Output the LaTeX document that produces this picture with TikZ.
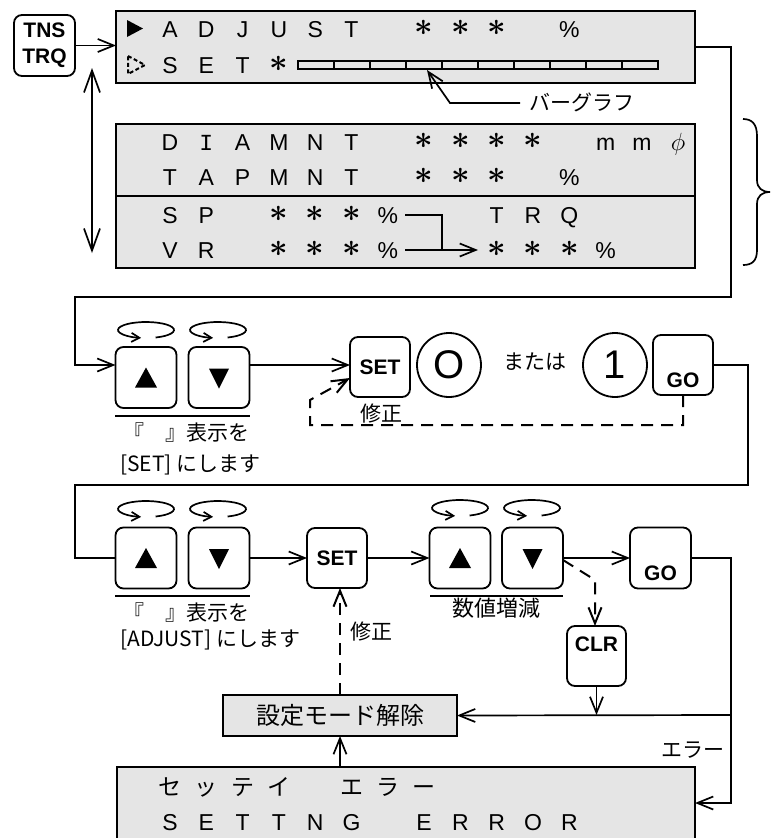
\documentclass[tikz,border=0pt]{standalone}
\usepackage{fontspec}
\usepackage{bm}
\setmainfont{Liberation Sans}
\newfontfamily\jp{Noto Sans CJK JP}
\newfontfamily\monof{Liberation Mono}
\usetikzlibrary{arrows.meta}
\newcommand\dst{\raisebox{1.6pt}{\scalebox{1.3}{$\bm{\ast}$}}}
\newcommand\drow[4]{\foreach \c [count=\k from 0] in {#4} {\node[#1] (#2\k) at ({170+36.3*\k},#3) {\c};}}
\begin{document}
\begin{tikzpicture}[x=1pt,y=-1pt,
  disp/.style={draw, line width=2pt, fill=black!10, inner sep=0pt, outer sep=0pt},
  btn/.style={draw, line width=1.8pt, rounded corners=8pt, minimum width=61pt, minimum height=61pt, inner sep=0pt, outer sep=0pt, fill=white},
  keytxt/.style={inner sep=0pt, font=\bfseries\fontsize{21}{25}\selectfont},
  conn/.style={line width=1.7pt, -{Straight Barb[length=16pt,width=13pt]}},
  plain/.style={line width=1.7pt},
  dconn/.style={conn, line width=2pt, dash pattern=on 12pt off 8pt},
  rot/.style={line width=1.7pt, -{Straight Barb[length=8pt,width=9pt]}},
  dch/.style={anchor=base, inner sep=0pt, font=\fontsize{23}{23}\selectfont},
  jch/.style={anchor=base, inner sep=0pt, font=\jp\fontsize{23}{23}\selectfont},
  lbl/.style={inner sep=0pt, font=\jp\fontsize{21}{24}\selectfont},
  circ/.style={draw, circle, line width=1.8pt, minimum size=64pt, inner sep=0pt, font=\fontsize{40}{40}\selectfont}
]
\path[use as bounding box] (0,0) rectangle (776,838);

% ---------- top part ----------
\node[btn, align=center, font=\bfseries\fontsize{21}{26}\selectfont] (tns) at (44.5,45.5) {TNS\\TRQ};
\node[disp, minimum width=579pt, minimum height=72pt] (disp1) at (405.5,47) {};
\fill (127,20) -- (143,28.5) -- (127,37) -- cycle;
\draw[line width=2pt, dash pattern=on 4pt off 2.5pt] (128,56) -- (145,65) -- (128,74) -- cycle;
\drow{dch}{ra}{37}{A,D,J,U,S,T,,\dst,\dst,\dst,,\%}
\drow{dch}{rb}{73}{S,E,T,\dst}
\node[draw, line width=1.6pt, minimum width=360pt, minimum height=8pt, inner sep=0pt, outer sep=0pt] (bar) at (478,65) {};
\foreach \i in {1,...,9} \draw[line width=1.6pt] ({298+36*\i},61) -- ({298+36*\i},69);
\node[lbl, anchor=west] (barlbl) at (529,102) {バーグラフ};
\coordinate (bl0) at (520,103);
\coordinate (bl1) at (450,103);
\coordinate (bl2) at (427,70);
\draw[conn] (bl0) -- (bl1) -- (bl2);

\node[disp, minimum width=579pt, minimum height=144pt] (disp2) at (405.5,196) {};
\draw[line width=1.8pt] (disp2.west) -- (disp2.east);
\drow{dch}{rc}{150}{D,{\monof I},A,M,N,T,,\dst,\dst,\dst,\dst,,m,m,{\fontsize{27}{27}\selectfont$\phi$}}
\drow{dch}{rd}{185}{T,A,P,M,N,T,,\dst,\dst,\dst,,\%}
\drow{dch}{re}{223}{S,P,,\dst,\dst,\dst,\%,,,T,R,Q}
\drow{dch}{rf}{258}{V,R,,\dst,\dst,\dst,\%,,,\dst,\dst,\dst,\%}
\coordinate (sp1) at (405,215);
\coordinate (sp2) at (442,215);
\coordinate (vr1) at (405,250);
\coordinate (vr2) at (478,250);
\draw[plain] (sp1) -- (sp2) -- (sp2 |- vr1);
\draw[conn] (vr1) -- (vr2);

\coordinate (da1) at (92,68);
\coordinate (da2) at (92,253);
\draw[line width=1.7pt, {Straight Barb[length=22pt,width=16pt]}-{Straight Barb[length=22pt,width=16pt]}] (da1) -- (da2);

\draw[line width=1.7pt] (743,119) .. controls (752,119) and (757,124) .. (757,136) -- (757,180) .. controls (757,188) and (762,192) .. (770,192) .. controls (762,192) and (757,196) .. (757,204) -- (757,250) .. controls (757,261) and (752,265) .. (743,265);

\draw[conn] (tns.east) -- (tns.east -| disp1.west);

% ---------- row 1 ----------
\node[btn, minimum height=61pt] (up1) at (146,377.5) {};
\node[btn] (dn1) at (219,377.5) {};
\node[btn, minimum width=60pt, minimum height=60pt, keytxt] (set1) at (380,367) {SET};
\node[circ] (c0) at (449,365) {O};
\node[lbl] (mataha) at (535,362) {または};
\node[circ] (c1) at (615,365) {1};
\node[btn, minimum width=60pt, minimum height=60pt] (go1) at (683,365) {};
\node[keytxt] (go1t) at (683,380) {GO};
\fill[shift={(up1.center)}] (-11,10) -- (11,10) -- (0,-10) -- cycle;
\fill[shift={(dn1.center)}] (-10,-9) -- (10,-9) -- (0,11) -- cycle;
\foreach \cx in {146,218} \draw[rot] (\cx,330) ++(70:28 and 8) arc[start angle=70, end angle=-260, x radius=28, y radius=8];
\draw[plain] (115,416) -- (250,416);
\node[lbl, anchor=west] (l1a) at (123,433) {『　』表示を};
\node[lbl, anchor=west] (l1b) at (120,465) {[SET] にします};
\node[lbl] (fix1) at (381,414) {修正};

\coordinate (r1) at (0,365);
\coordinate (k1) at (731,297);
\coordinate (k2) at (75,297);
\draw[conn] (disp1.east) -| (k1) -- (k2) |- (up1.west |- r1);
\draw[conn] (dn1.east |- r1) -- (set1.west |- r1);
\coordinate (d1) at (310,425);
\coordinate (d2) at (310,400);
\draw[dconn] (go1.south) |- (d1) -- (d2) -- ([yshift=-11pt]set1.west);

% ---------- row 2 ----------
\coordinate (k3) at (748,485);
\coordinate (k4) at (75,485);
\draw[conn] (go1.east) -| (k3) -- (k4) |- (146,558) -- (115,558);
\node[btn] (up2) at (146,558) {};
\node[btn] (dn2) at (219,558) {};
\node[btn, minimum width=60pt, minimum height=60pt, keytxt] (set2) at (337,558) {SET};
\node[btn] (up3) at (460,558) {};
\node[btn] (dn3) at (532.5,558) {};
\node[btn] (go2) at (660.5,558) {};
\node[keytxt] (go2t) at (660.5,573) {GO};
\node[btn, minimum width=59pt, minimum height=60pt] (clr) at (596.5,656) {};
\node[keytxt] (clrt) at (596.5,644) {CLR};
\foreach \b in {up2,up3} \fill[shift={(\b.center)}] (-11,10) -- (11,10) -- (0,-10) -- cycle;
\foreach \b in {dn2,dn3} \fill[shift={(\b.center)}] (-10,-9) -- (10,-9) -- (0,11) -- cycle;
\foreach \cx/\cy in {146/509,218/509,460/508,532/508} \draw[rot] (\cx,\cy) ++(70:28 and 8) arc[start angle=70, end angle=-260, x radius=28, y radius=8];
\draw[plain] (115,596) -- (250,596);
\draw[plain] (430,596) -- (563,596);
\node[lbl, anchor=west] (l2a) at (123,613) {『　』表示を};
\node[lbl, anchor=west] (l2b) at (120,640) {[ADJUST] にします};
\node[lbl, anchor=west] (fix2) at (350,632) {修正};
\node[lbl, font=\jp\fontsize{22}{24}\selectfont] (inc) at (496,608) {数値増減};

\draw[conn] (dn2.east) -- (set2.west);
\draw[conn] (set2.east) -- (up3.west);
\draw[conn] (dn3.east) -- (go2.west);
\coordinate (d3) at (595,580);
\draw[dconn] ([yshift=-2pt]dn3.east) -- (d3) -- (d3 |- clr.north);

% ---------- bottom ----------
\node[disp, minimum width=234pt, minimum height=41pt, font=\jp\fontsize{24}{24}\selectfont] (kaijo) at (340,715.5) {設定モード解除};
\node[disp, minimum width=578pt, minimum height=83pt] (err) at (406,808.5) {};
\drow{jch}{rg}{795}{セ,ッ,テ,イ,,エ,ラ,ー}
\drow{dch}{rh}{830}{S,E,T,T,N,G,,E,R,R,O,R}
\node[lbl, anchor=east] (errlbl) at (725,750) {エラー};

\coordinate (k5) at (731,558);
\coordinate (k6) at (731,715);
\coordinate (k7) at (731,803);
\draw[conn] (go2.east) -- (k5) -- (k7) -- (k7 -| err.east);
\draw[conn] (k6) -- (kaijo.east);
\draw[conn] (clr.south) -- (clr.south |- k6);
\draw[conn] (kaijo.south |- err.north) -- (kaijo.south);
\draw[dconn] (kaijo.north) -- (kaijo.north |- set2.south);
\end{tikzpicture}
\end{document}
